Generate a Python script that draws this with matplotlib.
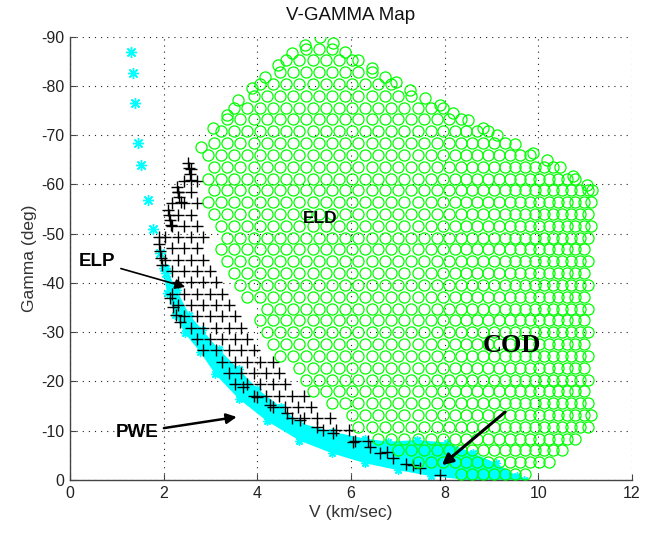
import numpy as np
import matplotlib
matplotlib.use("Agg")
import matplotlib.pyplot as plt
from matplotlib.path import Path

plt.rcParams['font.family'] = ['Liberation Sans', 'DejaVu Sans']
plt.rcParams['axes.unicode_minus'] = False

# ---------------- data ----------------
# ELD region (green circles): boundary polygon (V km/s, gamma deg)
eld_top_left_v = [2.80, 3.06, 3.35, 3.59, 3.88, 4.16, 4.45, 4.73, 5.02, 5.34]
eld_top_left_g = [-67.7, -71.4, -74.1, -77.1, -79.6, -81.9, -84.3, -86.7, -88.3, -90.0]
eld_top_right_v = [5.62, 5.87, 6.15, 6.44, 6.73, 6.97, 7.26, 7.58, 7.90, 8.18, 8.50, 8.82,
                   9.12, 9.50, 9.89, 10.18, 10.46, 10.75, 11.04, 11.15]
eld_top_right_g = [-88.7, -86.9, -85.3, -83.6, -81.8, -80.8, -79.2, -77.5, -76.1, -74.6, -73.0, -71.5,
                   -70.0, -68.2, -66.4, -65.0, -63.5, -61.7, -59.9, -58.9]
eld_right_v = [11.15, 11.15, 11.10, 11.06, 11.06, 11.10, 11.15, 10.60, 10.20, 9.60, 8.50, 7.75]
eld_right_g = [-56.8, -51.4, -44.7, -39.2, -32.5, -20.0, -10.8, -5.0, -2.0, -1.0, -1.0, -1.5]
eld_left_v = [7.40, 6.95, 6.45, 5.95, 5.50, 5.00, 4.70, 4.30, 4.00, 3.95, 3.55, 3.35, 3.15,
              3.05, 2.95, 2.85, 2.80]
eld_left_g = [-3.5, -6.0, -9.0, -12.0, -15.0, -19.0, -22.5, -26.5, -30.0, -35.5, -38.5, -41.0,
              -46.0, -50.7, -55.0, -60.0, -64.0]

# ELD lattice: column positions (denser towards high V) and row gammas
eld_cols = [2.80, 3.08, 3.36, 3.64, 3.92, 4.20, 4.48, 4.76, 5.04, 5.32, 5.60, 5.88, 6.16,
            6.44, 6.72, 7.00, 7.28, 7.56, 7.84, 8.10, 8.34, 8.58, 8.82, 9.05, 9.28, 9.50,
            9.71, 9.92, 10.12, 10.32, 10.51, 10.70, 10.88, 11.05]
eld_rows = [-1.2, -3.6, -6.0, -8.4, -10.8, -13.2, -15.6, -18.0, -20.4, -22.8, -25.2, -27.6,
            -30.0, -32.4, -34.8, -37.2, -39.6, -42.0, -44.4, -46.8, -49.2, -51.6, -54.0,
            -56.4, -58.8, -61.2, -63.6, -66.0, -68.4, -70.8, -73.2, -75.6, -78.0, -80.4,
            -82.8, -85.2, -87.6]

# ELP region (black pluses): boundary polygon
elp_v = [2.50, 2.70, 2.78, 2.85, 3.00, 3.25, 3.70, 3.95, 4.35, 4.80, 5.30, 5.85, 6.40, 6.90,
         7.50, 7.95, 7.90, 7.40, 6.90, 6.60, 6.10, 5.60, 5.00, 4.50, 4.00, 3.60, 3.25, 2.90,
         2.60, 2.35, 2.18, 2.00, 1.90, 1.95, 2.10, 2.30]
elp_g = [-65.5, -65.5, -58.0, -52.0, -45.0, -39.0, -34.5, -29.0, -24.0, -19.5, -15.5, -12.0,
         -8.5, -5.5, -2.5, -0.5, 0.3, -2.5, -4.0, -6.0, -7.5, -9.2, -11.0, -13.0, -15.5,
         -18.0, -21.0, -25.0, -29.0, -33.0, -36.5, -41.0, -46.0, -50.0, -55.0, -60.0]
elp_cols = [1.90, 2.17, 2.44, 2.71, 2.98, 3.25, 3.52, 3.79, 4.06, 4.33, 4.60, 4.87, 5.14,
            5.41, 5.68, 5.95, 6.22, 6.49, 6.76, 7.03, 7.30, 7.57, 7.84]
elp_rows = [-1.0, -3.3, -5.6, -7.9, -10.2, -12.5, -14.8, -17.1, -19.4, -21.7, -24.0, -26.3,
            -28.6, -30.9, -33.2, -35.5, -37.8, -40.1, -42.4, -44.7, -47.0, -49.3, -51.6,
            -53.9, -56.2, -58.5, -60.8, -63.1]
# pluses along the lower edge (next to the cyan band)
edge_plus_v = [3.69, 3.99, 4.27, 4.63, 4.91, 5.27, 5.62, 6.04, 6.41, 6.62, 6.90, 7.33, 7.47, 7.90]
edge_plus_g = [-18.9, -16.8, -15.2, -13.6, -12.2, -10.8, -9.5, -7.7, -6.7, -5.5, -4.5, -3.0,
               -2.4, -1.0]
# dense plus chains on the upper left edge
chain_v = [2.52, 2.54, 2.56, 2.58, 2.29, 2.31, 2.33, 2.36, 2.09, 2.11, 2.13, 2.16,
           1.89, 1.91, 1.93, 1.95, 1.97, 2.14, 2.20, 2.27, 2.35]
chain_g = [-64.4, -63.3, -62.1, -61.0, -59.5, -58.4, -57.4, -56.4, -54.8, -53.7, -52.7, -51.8,
           -49.3, -47.9, -46.5, -45.0, -43.6, -37.0, -35.2, -33.6, -32.0]

# PWE (cyan stars): isolated points and band outline
pwe_pts_v = [1.30, 1.35, 1.39, 1.45, 1.52, 1.67, 1.78, 1.92, 2.06]
pwe_pts_g = [-86.9, -82.6, -76.5, -68.4, -63.9, -56.8, -51.0, -46.0, -42.0]
band_up_v = [2.05, 2.28, 2.55, 2.82, 3.18, 3.60, 4.00, 4.50, 4.90, 5.60, 6.30, 6.80,
             7.40, 8.05, 8.60, 9.10, 9.55, 9.70]
band_up_g = [-43.0, -38.5, -33.5, -30.5, -26.5, -22.5, -18.5, -14.8, -11.6, -9.8, -8.4, -7.8,
             -8.1, -7.6, -5.5, -3.4, -0.8, 0.0]
band_lo_v = [8.50, 7.70, 7.00, 6.30, 5.60, 4.90, 4.20, 3.60, 3.10, 2.78, 2.45, 2.24, 2.07, 1.98]
band_lo_g = [0.0, -0.8, -2.0, -3.4, -5.4, -8.0, -12.0, -16.5, -21.5, -26.0, -29.8, -33.5,
             -38.0, -43.0]

x_ticks = [0, 2, 4, 6, 8, 10, 12]
y_ticks = [0, -10, -20, -30, -40, -50, -60, -70, -80, -90]


def lattice(cols, rows, poly_v, poly_g):
    path = Path(np.column_stack([poly_v, poly_g]))
    cols = np.asarray(cols)
    mids = np.append((cols[:-1] + cols[1:]) / 2, cols[-1] + (cols[-1] - cols[-2]) / 2)
    pts = []
    for i, g in enumerate(rows):
        vv = cols if i % 2 == 0 else mids
        for v in vv:
            pts.append((v, g))
    pts = np.array(pts)
    m = path.contains_points(pts)
    return pts[m]


fig = plt.figure(figsize=(6.51, 5.33), dpi=100)
ax = fig.add_axes([70 / 651, 1 - 480 / 533, 562 / 651, 443.3 / 533])

# cyan PWE band
bv = band_up_v + band_lo_v
bg = band_up_g + band_lo_g
ax.fill(bv, bg, color='#00ffff', lw=0, zorder=2)
ast = (8, 2, 0)
ax.plot(bv, bg, ls='none', marker=ast, ms=6, mew=1.0, color='#00ffff', zorder=2)
ax.plot(pwe_pts_v, pwe_pts_g, ls='none', marker=ast, ms=8, mew=1.0, color='#00ffff', zorder=2)

# black ELP pluses
pk = dict(ls='none', marker='+', ms=8, mew=1.0, color='black', zorder=3)
elp_pts = lattice(elp_cols, elp_rows, elp_v, elp_g)
ax.plot(elp_pts[:, 0], elp_pts[:, 1], **pk)
ax.plot(edge_plus_v, edge_plus_g, **pk)
ax.plot(chain_v, chain_g, **pk)

# green ELD circles
poly_v = eld_top_left_v + eld_top_right_v + eld_right_v + eld_left_v
poly_g = eld_top_left_g + eld_top_right_g + eld_right_g + eld_left_g
eld_pts = lattice(eld_cols, eld_rows, poly_v, poly_g)
ck = dict(ls='none', marker='o', ms=8, mew=0.9, mfc='none', mec='#00ff00', zorder=4)
ax.plot(eld_pts[:, 0], eld_pts[:, 1], **ck)
ax.plot(eld_top_left_v + eld_top_right_v, eld_top_left_g + eld_top_right_g, **ck)

# axes styling
ax.set_xlim(0, 12)
ax.set_ylim(0, -90)
ax.set_xticks(x_ticks)
ax.set_yticks(y_ticks)
ax.set_xticklabels([str(t) for t in x_ticks])
ax.set_yticklabels([str(t) for t in y_ticks])
ax.grid(True, color='#222222', linestyle=(0, (1, 4.5)), linewidth=0.8)
ax.set_axisbelow(True)
for s in ['top', 'right']:
    ax.spines[s].set_visible(False)
for s in ['left', 'bottom']:
    ax.spines[s].set_color('#444444')
    ax.spines[s].set_linewidth(1.0)
ax.tick_params(direction='in', length=4, width=0.8, colors='#444444', labelsize=11.5,
               labelcolor='#222222', pad=4)
ax.set_title('V-GAMMA Map', fontsize=13.5, color='#111111', pad=12)
ax.set_xlabel('V (km/sec)', fontsize=12.5, color='#333333', labelpad=3)
ax.set_ylabel('Gamma (deg)', fontsize=12.5, color='#333333', labelpad=3)

# annotations
ax.text(5.34, -53, 'ELD', fontsize=12.5, fontweight='bold', ha='center', va='center', zorder=6)
ax.text(9.44, -27.4, 'COD', fontsize=19, fontweight='bold', family='Liberation Serif',
        ha='center', va='center', zorder=6)
ax.annotate('ELP', xy=(2.46, -39.2), xytext=(0.58, -44.3), fontsize=13.5, fontweight='bold',
            ha='center', va='center', zorder=6,
            arrowprops=dict(arrowstyle='-|>', color='black', lw=1.2, mutation_scale=15,
                            shrinkA=2, shrinkB=0))
ax.annotate('PWE', xy=(3.56, -12.8), xytext=(1.43, -9.7), fontsize=13.5, fontweight='bold',
            ha='center', va='center', zorder=6,
            arrowprops=dict(arrowstyle='-|>', color='black', lw=1.8, mutation_scale=15,
                            shrinkA=2, shrinkB=0))
ax.annotate('', xy=(7.94, -3.0), xytext=(9.29, -13.8), zorder=6,
            arrowprops=dict(arrowstyle='-|>', color='black', lw=2.2, mutation_scale=16,
                            shrinkA=0, shrinkB=0))

fig.savefig('out.png', dpi=100)
